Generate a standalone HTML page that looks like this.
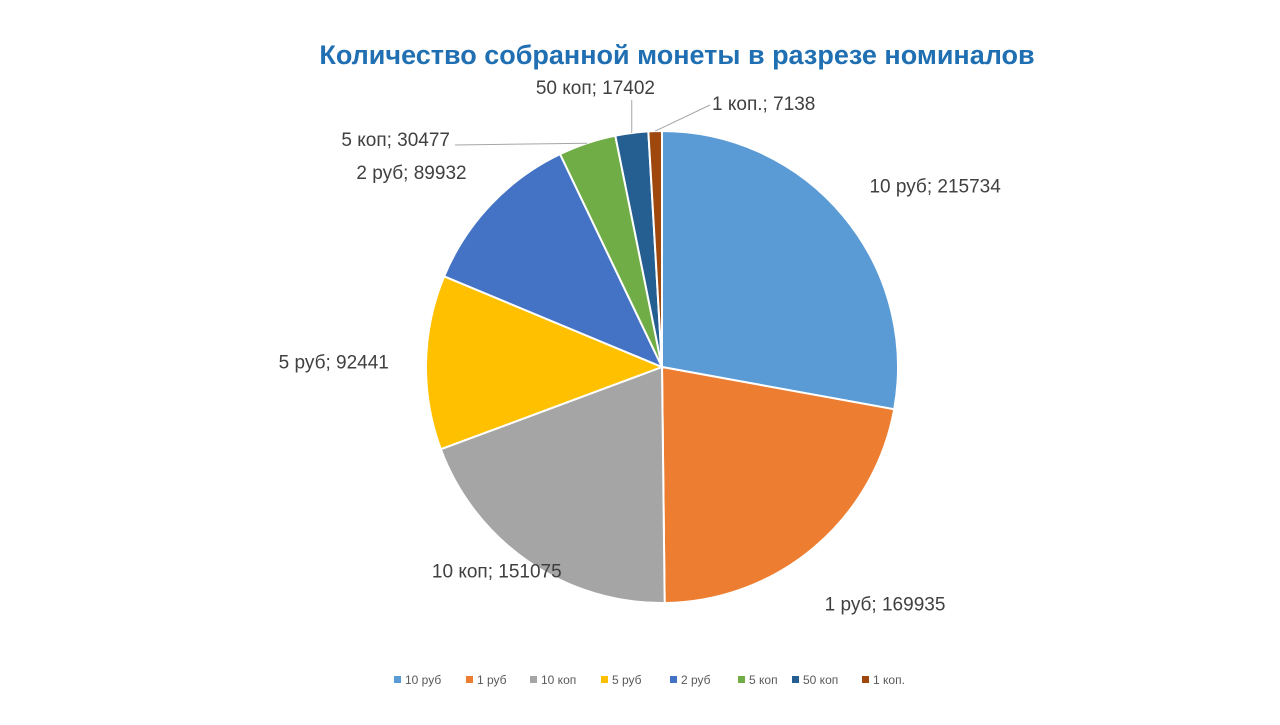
<!DOCTYPE html>
<html><head><meta charset="utf-8"><style>
body{margin:0;background:#fff;width:1280px;height:720px;overflow:hidden;font-family:"Liberation Sans","DejaVu Sans",sans-serif}
</style></head><body>
<svg id="c" width="1280" height="720" xmlns="http://www.w3.org/2000/svg">
<text x="677" y="64" text-anchor="middle" font-size="27" font-weight="bold" fill="#1f6fb2">Количество собранной монеты в разрезе номиналов</text>
<g id="slices"></g><g id="labels"></g><g id="legend"></g>
</svg>
<script>
const categories=["10 руб","1 руб","10 коп","5 руб","2 руб","5 коп","50 коп","1 коп."];
const values=[215734,169935,151075,92441,89932,30477,17402,7138];
const colors=["#5b9bd5","#ed7d31","#a5a5a5","#ffc000","#4472c4","#70ad47","#255e91","#9e480e"];
const legendX=[394,466,530,601,670,738,792,862];
const NS="http://www.w3.org/2000/svg";
const cx=662,cy=367,R=236;
const total=values.reduce((a,b)=>a+b,0);
function pt(a,r){return [cx+r*Math.sin(a),cy-r*Math.cos(a)];}
const sl=document.getElementById('slices'),lb=document.getElementById('labels'),lg=document.getElementById('legend');
let acc=0;
values.forEach((v,i)=>{
  const a0=acc/total*2*Math.PI;acc+=v;const a1=acc/total*2*Math.PI;
  const p0=pt(a0,R),p1=pt(a1,R);
  const p=document.createElementNS(NS,'path');
  p.setAttribute('d',`M${cx},${cy}L${p0[0]},${p0[1]}A${R},${R} 0 ${a1-a0>Math.PI?1:0} 1 ${p1[0]},${p1[1]}Z`);
  p.setAttribute('fill',colors[i]);p.setAttribute('stroke','#fff');p.setAttribute('stroke-width','2');
  
  
  sl.appendChild(p);
  const am=(a0+a1)/2;
  let tx,ty,anchor;
  const t=document.createElementNS(NS,'text');
  if(i<5){
    const q=pt(am,R*1.2);
    tx=q[0];ty=q[1]+7;anchor=Math.sin(am)>=0?'start':'end';
    if(i==0){tx-=10;}
    if(i==2){tx+=60;ty-=30;}
    if(i==1){tx-=20;ty+=20;}
    if(i==3){tx+=10;}
    if(i==4){tx+=10;}
  } else {
    const e=pt(am,R);
    let lx,ly;
    if(i==5){lx=455;ly=145;tx=450;ty=146;anchor='end';}
    else if(i==6){lx=e[0];ly=100;tx=655;ty=94;anchor='end';}
    else {lx=710;ly=105;tx=712;ty=110;anchor='start';}
    const l=document.createElementNS(NS,'polyline');
    l.setAttribute('points',`${e[0]},${e[1]} ${lx},${ly}`+(i==6?` ${lx},${ly}`:''));
    l.setAttribute('stroke','#a6a6a6');l.setAttribute('fill','none');
    
    
    lb.appendChild(l);
  }
  t.setAttribute('x',tx);t.setAttribute('y',ty);t.setAttribute('text-anchor',anchor);
  t.setAttribute('font-size','19');t.setAttribute('fill','#404040');
  t.textContent=categories[i]+'; '+v;
  
  
  lb.appendChild(t);
  const r=document.createElementNS(NS,'rect');
  r.setAttribute('x',legendX[i]);r.setAttribute('y',676);r.setAttribute('width',7);r.setAttribute('height',7);r.setAttribute('fill',colors[i]);
  
  
  lg.appendChild(r);
  const lt=document.createElementNS(NS,'text');
  lt.setAttribute('x',legendX[i]+11);lt.setAttribute('y',684);lt.setAttribute('font-size','12');lt.setAttribute('fill','#595959');
  lt.textContent=categories[i];
  
  
  lg.appendChild(lt);
});
</script>
</body></html>
